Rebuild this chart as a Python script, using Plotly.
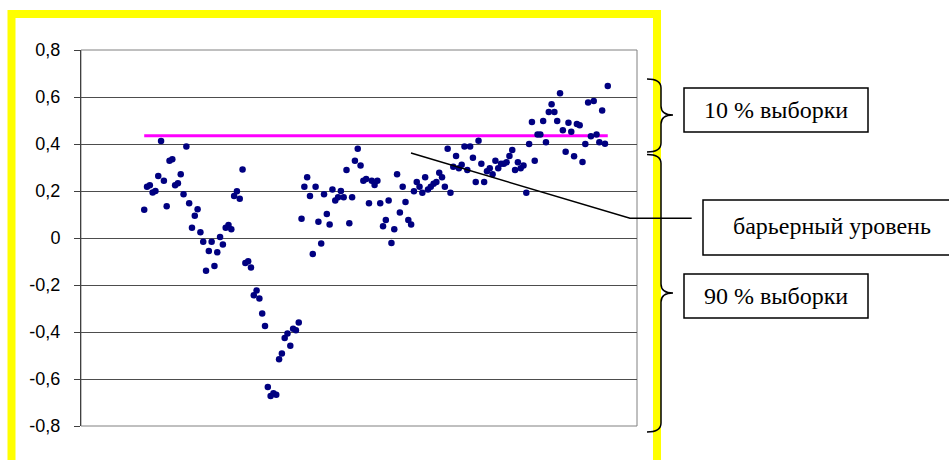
import plotly.graph_objects as go

# ---- data ----
values = [
    0.12, 0.218, 0.224, 0.194, 0.20, 0.264, 0.413, 0.244, 0.135, 0.329,
    0.335, 0.225, 0.233, 0.271, 0.186, 0.389, 0.148, 0.044, 0.095, 0.122,
    0.024, -0.016, -0.139, -0.055, -0.016, -0.119, -0.061, 0.004, -0.028, 0.044,
    0.055, 0.037, 0.179, 0.199, 0.167, 0.291, -0.106, -0.099, -0.125, -0.244,
    -0.223, -0.257, -0.321, -0.374, -0.634, -0.672, -0.661, -0.667, -0.516, -0.491,
    -0.426, -0.406, -0.458, -0.386, -0.393, -0.360,
    0.082, 0.218, 0.258, 0.179, -0.068, 0.218, 0.069, -0.023, 0.186, 0.102,
    0.057, 0.206, 0.160, 0.173, 0.200, 0.173, 0.289, 0.063, 0.173, 0.329,
    0.380, 0.309, 0.244, 0.251, 0.148, 0.244, 0.226, 0.244, 0.148, 0.050,
    0.077, 0.160, -0.021, 0.037, 0.271, 0.108, 0.218, 0.153, 0.077, 0.057,
    0.199, 0.238, 0.218, 0.193, 0.258, 0.206,
    0.218, 0.231, 0.238, 0.278, 0.258, 0.218, 0.380, 0.193, 0.303, 0.349,
    0.297, 0.312, 0.389, 0.289, 0.389, 0.342, 0.238, 0.414, 0.316, 0.238,
    0.284, 0.297, 0.271, 0.329, 0.297, 0.316, 0.316, 0.322, 0.349, 0.374,
    0.289, 0.322, 0.297, 0.309, 0.193, 0.400, 0.494, 0.329, 0.440, 0.440,
    0.498, 0.407, 0.536, 0.569, 0.536, 0.498, 0.616, 0.458, 0.367, 0.490,
    0.452, 0.348, 0.485, 0.480, 0.323, 0.400, 0.577, 0.433, 0.583, 0.440,
    0.407, 0.543, 0.401, 0.647,
]
obs = list(range(1, len(values) + 1))
barrier_value = 0.435
barrier = [barrier_value] * len(values)

tick_vals = [-0.8, -0.6, -0.4, -0.2, 0, 0.2, 0.4, 0.6, 0.8]
tick_text = ["-0,8", "-0,6", "-0,4", "-0,2", "0", "0,2", "0,4", "0,6", "0,8"]

label_top = "10 % выборки"
label_bottom = "90 % выборки"
label_barrier = "барьерный уровень"

# ---- layout helpers (pixel -> paper) ----
W, H = 949, 460
L, R, T, B = 81, 312, 50, 34
PW, PH = W - L - R, H - T - B


def px(x):
    return (x - L) / PW


def py(y):
    return (H - B - y) / PH


def path(points_cmds):
    out = []
    for c in points_cmds:
        if isinstance(c, str):
            out.append(c)
        else:
            out.append(f"{px(c[0]):.5f},{py(c[1]):.5f}")
    return " ".join(out)


def brace(x0, yt, yb, xs, xt, ym, r=9):
    return path(["M", (x0, yt), "Q", (xs, yt), (xs, yt + r),
                 "L", (xs, ym - r), "Q", (xs, ym), (xt, ym),
                 "Q", (xs, ym), (xs, ym + r),
                 "L", (xs, yb - r), "Q", (xs, yb), (x0, yb)])


fig = go.Figure()
fig.add_trace(go.Scatter(x=obs, y=barrier, mode="lines",
                         line=dict(color="#FF00FF", width=3),
                         hoverinfo="skip", showlegend=False))
fig.add_trace(go.Scatter(x=obs, y=values, mode="markers",
                         marker=dict(color="#000080", size=6.5, line=dict(width=0)),
                         showlegend=False))

shapes = []
# plot area frame
shapes.append(dict(type="rect", xref="paper", yref="paper", x0=0, y0=0, x1=1, y1=1,
                   line=dict(color="#808080", width=1), layer="below"))
# yellow frame
shapes.append(dict(type="path", xref="paper", yref="paper",
                   path=path(["M", (11.5, 480), "L", (11.5, 14), "L", (657, 14), "L", (657, 480)]),
                   line=dict(color="#FFFF00", width=8)))
# braces
shapes.append(dict(type="path", xref="paper", yref="paper",
                   path=brace(647, 79, 152, 661, 673, 115),
                   line=dict(color="black", width=1.5)))
shapes.append(dict(type="path", xref="paper", yref="paper",
                   path=brace(647, 154.5, 432, 661, 673, 293),
                   line=dict(color="black", width=1.5)))
# pointer line to barrier label
shapes.append(dict(type="path", xref="paper", yref="paper",
                   path=path(["M", (411, 153), "L", (630, 218.3), "L", (691.7, 218.3)]),
                   line=dict(color="black", width=1.5)))
# label boxes
for (x0, y0, x1, y1) in [(684, 88, 868, 132), (684, 274, 868, 318), (703, 200, 965, 255)]:
    shapes.append(dict(type="rect", xref="paper", yref="paper",
                       x0=px(x0), x1=px(x1), y0=py(y1), y1=py(y0),
                       line=dict(color="black", width=1.5), fillcolor="white"))

annotations = []
for text, cx, cy in [(label_top, 776, 110), (label_bottom, 776, 296), (label_barrier, 832, 226)]:
    annotations.append(dict(text=text, xref="paper", yref="paper", x=px(cx), y=py(cy),
                            xanchor="center", yanchor="middle", showarrow=False,
                            font=dict(family="Liberation Serif", size=24, color="black")))

fig.update_layout(
    width=W, height=H,
    margin=dict(l=L, r=R, t=T, b=B, pad=0),
    paper_bgcolor="white", plot_bgcolor="white",
    shapes=shapes, annotations=annotations,
    showlegend=False,
    xaxis=dict(range=[-21.5, 176.4], showgrid=False, zeroline=False,
               showticklabels=False, ticks="", showline=False, fixedrange=True),
    yaxis=dict(range=[-0.8, 0.8], tickvals=tick_vals, ticktext=tick_text,
               showgrid=True, gridcolor="#4d4d4d", gridwidth=1, zeroline=False,
               showline=True, linecolor="#404040", linewidth=1,
               ticks="outside", ticklen=6, tickcolor="#404040",
               ticklabelstandoff=10,
               tickfont=dict(family="Liberation Sans", size=18, color="black"),
               fixedrange=True),
)

fig.write_html("out.html", config={"displayModeBar": False},
               post_script="document.body.style.margin='0';document.body.style.overflow='hidden';")
